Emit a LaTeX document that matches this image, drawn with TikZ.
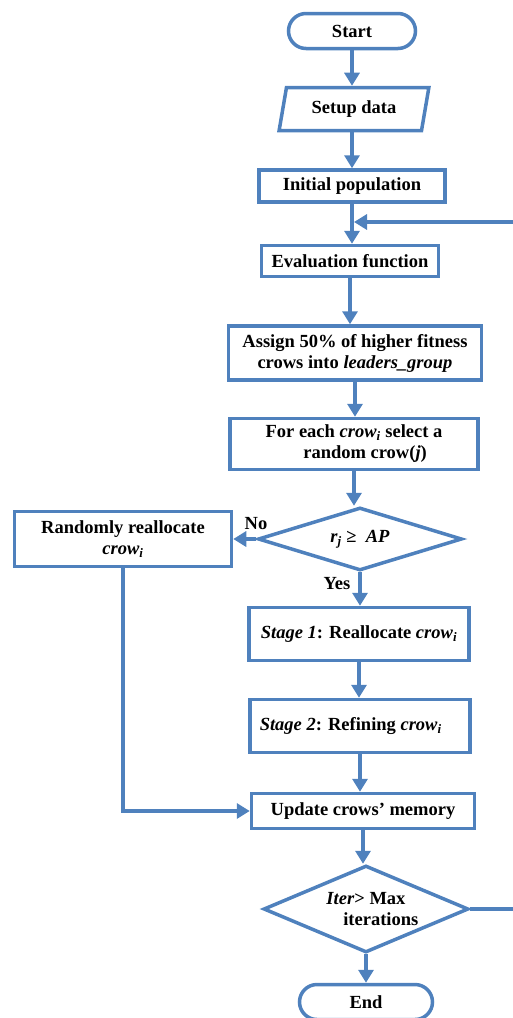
\documentclass[tikz,border=0pt]{standalone}
\usepackage{amsmath}
\usepackage{fontspec}
\setmainfont{Liberation Serif}
\usepackage{tikz}
\usetikzlibrary{arrows.meta}
\usetikzlibrary{shapes.geometric}
\definecolor{flowblue}{RGB}{79,129,189}
\newcommand\crowi{\textit{crow}\textsubscript{\textit{i}}}

\begin{document}
\begin{tikzpicture}[
    x=1pt, y=-1pt,
    >={Triangle[width=15pt, length=13pt]},
    font=\fontsize{18.5}{21}\selectfont\bfseries,
    every path/.style = {draw=flowblue, line width=3.5pt},
    label/.style = {draw=none},
    terminal/.style = {
        rectangle,
        rounded corners=17.5pt,
        minimum width=127,
        minimum height=35,
        draw=flowblue
      },
    process/.style = {
        rectangle,
        align=center,
        inner sep=2pt,
        draw=flowblue
      },
    decision/.style = {
        diamond,
        align=center,
        inner sep=0pt,
        draw=flowblue
      },
    ]
    \useasboundingbox [draw=none] (0,0) rectangle (513,1018);

    \node (start) [terminal] at (352,31) {Start};
    \node (setup) [trapezium, trapezium left angle=78, trapezium right angle=102,
        trapezium stretches=true, minimum width=150, minimum height=43,
        draw=flowblue] at (354,109) {Setup data};
    \node (init) [process, minimum width=186, minimum height=32] at (352,186) {Initial population};
    \node (eval) [process, minimum width=177, minimum height=31] at (350,261) {Evaluation function};
    \node (assign) [process, minimum width=253, minimum height=54] at (355,353)
        {Assign 50\% of higher fitness\\crows into \textit{leaders\_group}};
    \node (foreach) [process, minimum width=248, minimum height=51] at (354,444)
        {For each \crowi{} select a\\\hspace*{1.2em}random crow(\textit{j})};
    \node (check) [decision, aspect=3.2, minimum width=204, minimum height=63] at (360,539)
        {\textit{r}\textsubscript{\textit{j}} ≥\ \ \textit{AP}};
    \node (random) [process, minimum width=217, minimum height=55] at (123,539)
        {Randomly reallocate\\\crowi};
    \node (stage1) [process, minimum width=220, minimum height=53] at (359,634)
        {\textit{Stage 1}: Reallocate \crowi};
    \node (stage2) [process, minimum width=220, minimum height=53] at (360,726)
        {\textit{Stage 2}: Refining \crowi\hspace*{1em}};
    \node (update) [process, minimum width=223, minimum height=35] at (363,811) {Update crows’ memory};
    \node (iter) [decision, aspect=2.35, minimum width=205, minimum height=87] at (366,909)
        {\textit{Iter}> Max\\\hspace*{1.6em}iterations};
    \node (end) [terminal, minimum width=133] at (366,1002) {End};

    \node (nolabel) [label] at (256,524) {No};
    \node (yeslabel) [label] at (337,584) {Yes};

    \coordinate (loopin) at (354,222);
    \coordinate (rightedge) at (540,0);

    \draw [->] (start) -- (start |- setup.north);
    \draw [->] (init |- setup.south) -- (init);
    \draw [->] (init) -- (init |- eval.north);
    \draw [->] (eval) -- (eval |- assign.north);
    \draw [->] (assign) -- (assign |- foreach.north);
    \draw [->] (foreach) -- (foreach |- check.north);
    \draw [->] (check) -- (random);
    \draw [->] (check) -- (check |- stage1.north);
    \draw [->] (stage1) -- (stage1 |- stage2.north);
    \draw [->] (stage2) -- (stage2 |- update.north);
    \draw [->] (random) |- (update);
    \draw [->] (update) -- (update |- iter.north);
    \draw [->] (iter) -- (end);
    \draw [->] (iter.east) -- (iter.east -| rightedge) |- (loopin);
  \end{tikzpicture}
\end{document}
